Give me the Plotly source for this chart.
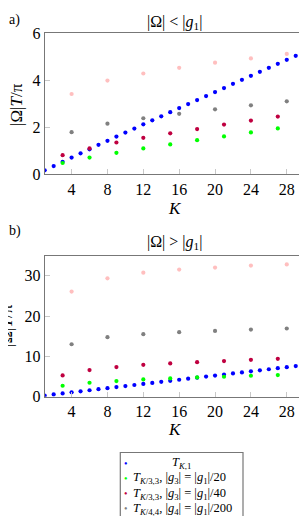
import plotly.graph_objects as go

# ---- data ----
K_all = list(range(1, 31))
K_3 = [3, 6, 9, 12, 15, 18, 21, 24, 27, 30]
K_4 = [4, 8, 12, 16, 20, 24, 28]

# panel a) |Omega| < |g1|
a_T1 = [0.17, 0.35, 0.53, 0.71, 0.89, 1.06, 1.25, 1.42, 1.60, 1.77,
        1.94, 2.12, 2.29, 2.46, 2.64, 2.81, 2.98, 3.15, 3.32, 3.49,
        3.66, 3.84, 4.01, 4.18, 4.35, 4.52, 4.69, 4.86, 5.03, 5.20]
a_g3_20 = [0.48, 0.71, 0.91, 1.10, 1.27, 1.45, 1.61, 1.78, 1.95, 2.12]
a_g3_40 = [0.81, 1.10, 1.35, 1.55, 1.74, 1.92, 2.11, 2.28, 2.45, 2.62]
a_g4_200 = [1.79, 2.15, 2.38, 2.57, 2.76, 2.93, 3.10]
a_g4_400 = [3.41, 3.98, 4.28, 4.52, 4.74, 4.92, 5.11]

# panel b) |Omega| > |g1|
b_T1 = [0.30, 0.56, 0.82, 1.08, 1.34, 1.60, 1.86, 2.12, 2.38, 2.64,
        2.90, 3.16, 3.42, 3.68, 3.94, 4.20, 4.46, 4.72, 4.98, 5.24,
        5.50, 5.76, 6.02, 6.28, 6.54, 6.80, 7.06, 7.32, 7.58, 7.84]
b_g3_20 = [2.72, 3.46, 3.87, 4.29, 4.53, 4.78, 4.95, 5.19, 5.36, 5.60]
b_g3_40 = [5.28, 6.60, 7.34, 7.91, 8.24, 8.57, 8.82, 9.15, 9.40, 9.65]
b_g4_200 = [13.0, 14.76, 15.5, 16.0, 16.3, 16.65, 16.9]
b_g4_400 = [26.05, 29.35, 30.75, 31.5, 32.0, 32.5, 32.8]

x_ticks = [4, 8, 12, 16, 20, 24, 28]
a_yticks = [0, 2, 4, 6]
b_yticks = [0, 10, 20, 30]

names = [
    "<i>T</i><sub><i>K</i>,1</sub>",
    "<i>T</i><sub><i>K</i>/3,3</sub>, |<i>g</i><sub>3</sub>| = |<i>g</i><sub>1</sub>|/20",
    "<i>T</i><sub><i>K</i>/3,3</sub>, |<i>g</i><sub>3</sub>| = |<i>g</i><sub>1</sub>|/40",
    "<i>T</i><sub><i>K</i>/4,4</sub>, |<i>g</i><sub>4</sub>| = |<i>g</i><sub>1</sub>|/200",
    "<i>T</i><sub><i>K</i>/4,4</sub>, |<i>g</i><sub>4</sub>| = |<i>g</i><sub>1</sub>|/400",
]
colors = ["#0000ff", "#00ff00", "#bf0040", "#808080", "#ffbfbf"]

FONT = "Liberation Serif"
W, H = 307, 516

fig = go.Figure()
series_a = [(K_all, a_T1), (K_3, a_g3_20), (K_3, a_g3_40), (K_4, a_g4_200), (K_4, a_g4_400)]
series_b = [(K_all, b_T1), (K_3, b_g3_20), (K_3, b_g3_40), (K_4, b_g4_200), (K_4, b_g4_400)]
for i, (xs, ys) in enumerate(series_a):
    fig.add_trace(go.Scatter(x=xs, y=ys, mode="markers", name=names[i],
                             marker=dict(color=colors[i], size=4.2),
                             xaxis="x", yaxis="y", showlegend=False))
for i, (xs, ys) in enumerate(series_b):
    fig.add_trace(go.Scatter(x=xs, y=ys, mode="markers", name=names[i],
                             marker=dict(color=colors[i], size=4.2),
                             xaxis="x2", yaxis="y2", showlegend=False))

def px_x(p):
    return p / W

def px_y(p):
    return 1 - p / H

xdom = [px_x(36.7), px_x(296.7)]
axis_common = dict(showline=True, mirror=True, linecolor="#777777", linewidth=1.2,
                   ticks="inside", ticklen=5, tickcolor="#c8c8c8", tickwidth=1,
                   showgrid=False, zeroline=False,
                   tickfont=dict(family=FONT, size=16, color="#000000"),
                   automargin=False)

fig.update_layout(
    width=W, height=H,
    margin=dict(l=0, r=0, t=0, b=0),
    paper_bgcolor="white", plot_bgcolor="white",
    font=dict(family=FONT, color="#000000"),
    xaxis=dict(domain=xdom, range=[1, 30], tickvals=x_ticks, anchor="y", **axis_common),
    yaxis=dict(domain=[px_y(166.3), px_y(25)], range=[0, 6], tickvals=a_yticks, anchor="x", **axis_common),
    xaxis2=dict(domain=xdom, range=[1, 30], tickvals=x_ticks, anchor="y2", **axis_common),
    yaxis2=dict(domain=[px_y(388.7), px_y(247.5)], range=[0, 35], tickvals=b_yticks, anchor="x2", **axis_common),
    showlegend=False,
)

def ann(text, x, y, size=14, angle=0, xanchor="center", yanchor="middle", color="#000"):
    fig.add_annotation(text=text, x=px_x(x), y=px_y(y), xref="paper", yref="paper",
                       showarrow=False, font=dict(family=FONT, size=size, color=color),
                       textangle=angle, xanchor=xanchor, yanchor=yanchor,
                       borderpad=0)

ann("a)", 0, 12, size=14, xanchor="left")
ann("|Ω| &lt; |<i>g</i><sub>1</sub>|", 166.7, 14, size=16)
ann("|Ω|<i>T</i>/π", 8, 97, size=17, angle=-90)
ann("<i>K</i>", 166.7, 200, size=17)

ann("b)", 0, 223, size=14, xanchor="left")
ann("|Ω| &gt; |<i>g</i><sub>1</sub>|", 166.7, 235, size=16)
ann("|Ω|<i>T</i>/π", -2, 318, size=17, angle=-90)
ann("<i>K</i>", 166.7, 421, size=17)

# legend box (extends past the bottom edge as in the reference)
fig.add_shape(type="rect", xref="paper", yref="paper",
              x0=px_x(112.3), x1=px_x(235), y0=px_y(530), y1=px_y(444.5),
              line=dict(color="#777777", width=1.2), fillcolor="white", layer="above")
row_y = [455, 470.3, 485.5, 500.7, 516]
for i in range(5):
    ann("•", 118.3, row_y[i], size=10, color=colors[i])
    if i == 0:
        ann(names[i], 173.3, row_y[i], size=12.5)
    else:
        ann(names[i], 123.5, row_y[i], size=12.5, xanchor="left")

fig.write_html("out.html")
